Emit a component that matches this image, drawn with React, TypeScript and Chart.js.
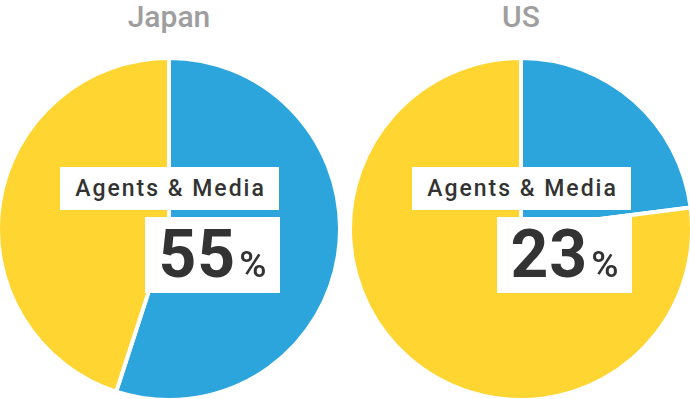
import React, { useEffect, useRef } from "react";
import { Chart, registerables } from "chart.js";

Chart.register(...registerables);

const regions = ["Japan", "US"];
const categories = ["Agents & Media", "Other"];
const japanValues = [55, 45];
const usValues = [23, 77];
const seriesColors = ["#2BA5DB", "#FED531"];
const labelText = "Agents & Media";

function Pie({ values, left }: { values: number[]; left: number }) {
  const ref = useRef<HTMLCanvasElement | null>(null);
  useEffect(() => {
    if (!ref.current) return;
    const chart = new Chart(ref.current, {
      type: "pie",
      data: {
        labels: categories,
        datasets: [
          {
            data: values,
            backgroundColor: seriesColors,
            borderColor: "#ffffff",
            borderWidth: 4,
          },
        ],
      },
      options: {
        responsive: false,
        animation: false,
        events: [],
        layout: { padding: 0 },
        plugins: { legend: { display: false }, tooltip: { enabled: false }, title: { display: false } },
      },
    });
    return () => chart.destroy();
  }, [values]);
  return (
    <canvas
      ref={ref}
      width={346}
      height={346}
      style={{ position: "absolute", left, top: 56, width: 346, height: 346 }}
    />
  );
}

const font = 'Roboto, "Noto Sans", sans-serif';

function Panel({ title, values, cx }: { title: string; values: number[]; cx: number }) {
  const pct = values[0];
  return (
    <>
      <Pie values={values} left={cx - 173} />
      <div
        style={{
          position: "absolute",
          left: cx - 100,
          width: 200,
          top: -3,
          textAlign: "center",
          fontFamily: font,
          fontWeight: 500,
          fontSize: 30,
          color: "#9E9E9E",
          lineHeight: "40px",
        }}
      >
        {title}
      </div>
      <div
        style={{
          position: "absolute",
          left: cx - 109,
          top: 167,
          width: 219,
          height: 43,
          background: "#fff",
          display: "flex",
          alignItems: "center",
          justifyContent: "center",
          fontFamily: font,
          fontWeight: 500,
          fontSize: 23,
          letterSpacing: 2,
          color: "#333",
        }}
      >
        <span style={{ marginRight: -2 }}>{labelText}</span>
      </div>
      <div
        style={{
          position: "absolute",
          left: cx - 24,
          top: 217,
          width: 135,
          height: 76,
          background: "#fff",
          fontFamily: font,
          fontWeight: 700,
          color: "#333",
          textAlign: "center",
          lineHeight: "76px",
          whiteSpace: "nowrap",
        }}
      >
        <span style={{ fontSize: 66, letterSpacing: 1 }}>{pct}</span>
        <span style={{ fontSize: 37, fontWeight: 500, marginLeft: 3 }}>%</span>
      </div>
    </>
  );
}

export default function App() {
  return (
    <div
      style={{
        position: "fixed",
        left: 0,
        top: 0,
        width: 690,
        height: 399,
        overflow: "hidden",
        background: "#fff",
      }}
    >
      <Panel title={regions[0]} values={japanValues} cx={169} />
      <Panel title={regions[1]} values={usValues} cx={521} />
    </div>
  );
}
